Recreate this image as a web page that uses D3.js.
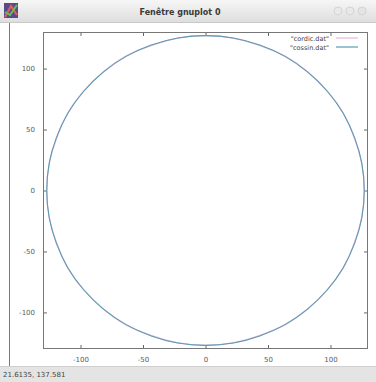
<!DOCTYPE html>
<html>
<head>
<meta charset="utf-8">
<script src="https://cdn.jsdelivr.net/npm/d3@7"></script>
<style>
  body { margin: 0; background: #fff; }
  svg { display: block; font-family: "DejaVu Sans", sans-serif; }
</style>
</head>
<body>
<svg id="chart"></svg>
<script>
// Data (points every 10 degrees around the circle)
const cordicX = [127,125,119,110,97,82,64,43,22,0,-22,-43,-64,-82,-97,-110,-119,-125,-127,-125,-119,-110,-97,-82,-64,-43,-22,0,22,43,64,82,97,110,119,125];
const cordicY = [0,22,43,64,82,97,110,119,125,127,125,119,110,97,82,64,43,22,0,-22,-43,-64,-82,-97,-110,-119,-125,-127,-125,-119,-110,-97,-82,-64,-43,-22];
const cossinX = [127,125.1,119.3,110.0,97.3,81.6,63.5,43.4,22.1,0,-22.1,-43.4,-63.5,-81.6,-97.3,-110.0,-119.3,-125.1,-127,-125.1,-119.3,-110.0,-97.3,-81.6,-63.5,-43.4,-22.1,0,22.1,43.4,63.5,81.6,97.3,110.0,119.3,125.1];
const cossinY = [0,22.1,43.4,63.5,81.6,97.3,110.0,119.3,125.1,127,125.1,119.3,110.0,97.3,81.6,63.5,43.4,22.1,0,-22.1,-43.4,-63.5,-81.6,-97.3,-110.0,-119.3,-125.1,-127,-125.1,-119.3,-110.0,-97.3,-81.6,-63.5,-43.4,-22.1];
const xTicks = [-100, -50, 0, 50, 100];
const yTicks = [-100, -50, 0, 50, 100];
const seriesNames = ['"cordic.dat"', '"cossin.dat"'];
const seriesColors = ['#e2b8e2', '#5b9bb0'];

const W = 376, H = 382;
const svg = d3.select('#chart').attr('width', W).attr('height', H);

// window chrome: title bar
const grad = svg.append('defs').append('linearGradient')
    .attr('id', 'tb').attr('x1', 0).attr('y1', 0).attr('x2', 0).attr('y2', 1);
grad.append('stop').attr('offset', 0).attr('stop-color', '#f6f6f6');
grad.append('stop').attr('offset', 1).attr('stop-color', '#dedede');
svg.append('rect').attr('x', 0).attr('y', 0).attr('width', W).attr('height', 22).attr('fill', 'url(#tb)');
svg.append('line').attr('x1', 0).attr('x2', W).attr('y1', 22.5).attr('y2', 22.5).attr('stroke', '#c8c8c8');

// little icon
const icon = svg.append('g').attr('transform', 'translate(4,3)');
icon.append('rect').attr('width', 14).attr('height', 15).attr('fill', '#5a4a8a');
icon.append('path').attr('d', 'M1,14 L7,3 L13,12').attr('fill', 'none').attr('stroke', '#e06060').attr('stroke-width', 2);
icon.append('path').attr('d', 'M1,9 L6,12 L13,2').attr('fill', 'none').attr('stroke', '#60c060').attr('stroke-width', 2);

svg.append('text').attr('x', 180).attr('y', 14.5).attr('text-anchor', 'middle')
    .attr('font-size', 8).attr('font-weight', 'bold').attr('fill', '#3a3a3a')
    .text('Fenêtre gnuplot 0');

// faded window buttons
[338, 350, 362].forEach((cx, i) => {
  svg.append('circle').attr('cx', cx).attr('cy', 11).attr('r', 4)
      .attr('fill', i === 2 ? '#e4e4e4' : '#e9e9e9').attr('stroke', '#d4d4d4');
});

// left window frame
svg.append('line').attr('x1', 9.5).attr('x2', 9.5).attr('y1', 23).attr('y2', 366)
    .attr('stroke', '#7a7a7a');

// status bar
svg.append('rect').attr('x', 0).attr('y', 366).attr('width', W).attr('height', 16).attr('fill', '#e4e4e4');
svg.append('line').attr('x1', 0).attr('x2', W).attr('y1', 366.5).attr('y2', 366.5).attr('stroke', '#cfcfcf');
svg.append('text').attr('x', 3).attr('y', 377).attr('font-size', 7).attr('fill', '#444')
    .text('21.6135, 137.581');

// plot area
const plot = { left: 43, right: 368, top: 32, bottom: 349 };
const x = d3.scaleLinear().domain([-130, 130]).range([plot.left, plot.right]);
const y = d3.scaleLinear().domain([-130, 130]).range([plot.bottom, plot.top]);

// gnuplot prints a plain hyphen for negatives
const fmt = d => String(d);

const tickStyle = g => {
  g.select('.domain').remove();
  g.selectAll('.tick line').attr('stroke', '#666');
  g.selectAll('.tick text').attr('fill', '#5a5a5a').attr('font-size', 7)
      .attr('font-family', '"DejaVu Sans", sans-serif');
};

svg.append('g').attr('transform', `translate(0,${plot.bottom})`)
    .call(d3.axisBottom(x).tickValues(xTicks).tickFormat(fmt).tickSizeInner(-4).tickSizeOuter(0).tickPadding(8))
    .call(tickStyle);
svg.append('g').attr('transform', `translate(0,${plot.top})`)
    .call(d3.axisTop(x).tickValues(xTicks).tickSizeInner(-4).tickSizeOuter(0).tickFormat(''))
    .call(tickStyle);
svg.append('g').attr('transform', `translate(${plot.left},0)`)
    .call(d3.axisLeft(y).tickValues(yTicks).tickFormat(fmt).tickSizeInner(-4).tickSizeOuter(0).tickPadding(8))
    .call(tickStyle);
svg.append('g').attr('transform', `translate(${plot.right},0)`)
    .call(d3.axisRight(y).tickValues(yTicks).tickSizeInner(-4).tickSizeOuter(0).tickFormat(''))
    .call(tickStyle);

svg.append('rect').attr('x', plot.left + 0.5).attr('y', plot.top + 0.5)
    .attr('width', plot.right - plot.left - 1).attr('height', plot.bottom - plot.top - 1)
    .attr('fill', 'none').attr('stroke', '#777');

// curves
const line = d3.line().x(d => x(d[0])).y(d => y(d[1])).curve(d3.curveCatmullRomClosed);
const series = [d3.zip(cordicX, cordicY), d3.zip(cossinX, cossinY)];
series.forEach((pts, i) => {
  svg.append('path').datum(pts).attr('d', line)
      .attr('fill', 'none').attr('stroke', seriesColors[i]).attr('stroke-width', i === 0 ? 1.2 : 1.1);
});

// legend
seriesNames.forEach((name, i) => {
  const ly = 38 + i * 9;
  svg.append('text').attr('x', 329).attr('y', ly + 2.5).attr('text-anchor', 'end')
      .attr('font-size', 6.5).attr('fill', '#444').text(name);
  svg.append('line').attr('x1', 336).attr('x2', 358).attr('y1', ly).attr('y2', ly)
      .attr('stroke', seriesColors[i]).attr('stroke-width', 1.2);
});
</script>
</body>
</html>
